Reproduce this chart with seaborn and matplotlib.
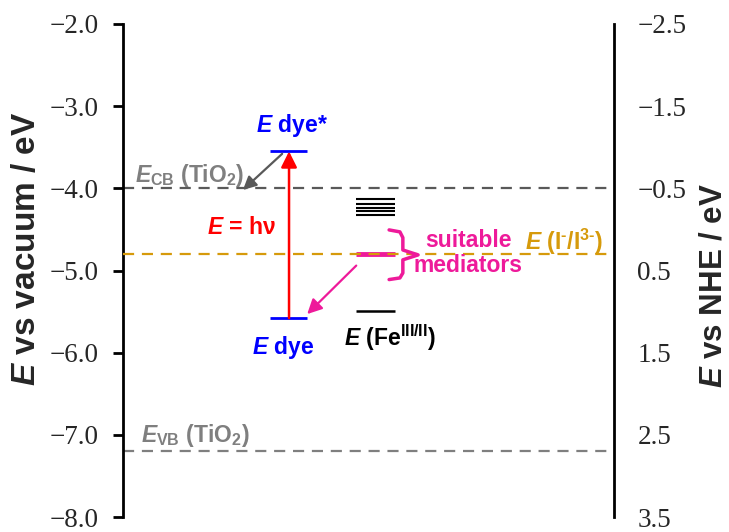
import numpy as np
import pandas as pd
import seaborn as sns
import matplotlib.pyplot as plt

# energy levels, eV vs vacuum
tio2_bands = [-4.0, -7.2]          # CB, VB
dye_levels = [-3.55, -5.58]        # dye*, dye
iodide_level = -4.8
mediator_levels = [-4.13, -4.19, -4.24, -4.28, -4.32]
fe_level = -5.49
left_ticks = [-2.0, -3.0, -4.0, -5.0, -6.0, -7.0, -8.0]
right_ticks = [-2.5, -1.5, -0.5, 0.5, 1.5, 2.5, 3.5]
nhe_offset = 4.5   # E(NHE) = -E(vac) - 4.5

sns.set_theme(style="ticks")
plt.rcParams['font.family'] = ['Liberation Sans', 'DejaVu Sans']
plt.rcParams['mathtext.fontset'] = 'custom'
plt.rcParams['mathtext.rm'] = 'Liberation Sans:bold'
plt.rcParams['mathtext.bf'] = 'Liberation Sans:bold'
plt.rcParams['mathtext.it'] = 'Liberation Sans:italic:bold'

grey_dark = "#595959"
grey = "#7f7f7f"
orange = "#d69a0b"
pink = "#ee1a9a"
blue = "#0000ff"
red = "#ff0000"

fig = plt.figure(figsize=(7.29, 5.32), dpi=100)
ax = fig.add_axes([0.169, 0.028, 0.673, 0.927])
ax.set_xlim(0, 1)
ax.set_ylim(-8.0, -2.0)

# TiO2 bands and iodide level
ax.axhline(tio2_bands[0], color=grey_dark, lw=1.6, dashes=(5, 3.5), zorder=2)
ax.axhline(tio2_bands[1], color=grey, lw=1.6, dashes=(5, 3.5), zorder=2)
ax.hlines(iodide_level, 0.475, 0.554, color=pink, lw=3.5, zorder=2)
ax.axhline(iodide_level, color=orange, lw=1.6, dashes=(5, 3.5), zorder=3)

# dye levels
ax.hlines(dye_levels, 0.299, 0.375, color=blue, lw=2, zorder=4)
# mediators
ax.hlines(mediator_levels, 0.475, 0.554, color="black", lw=1.5, zorder=4)
ax.hlines(fe_level, 0.475, 0.554, color="black", lw=1.8, zorder=4)

# arrows
ax.annotate("", xy=(0.338, dye_levels[0]), xytext=(0.338, dye_levels[1]),
            arrowprops=dict(arrowstyle='-|>', color=red, lw=1.8,
                            mutation_scale=24, shrinkA=0, shrinkB=0), zorder=5)
ax.annotate("", xy=(0.244, tio2_bands[0] - 0.02), xytext=(0.324, dye_levels[0] - 0.03),
            arrowprops=dict(arrowstyle='-|>', color=grey_dark, lw=1.6,
                            mutation_scale=20, shrinkA=0, shrinkB=0), zorder=5)
ax.annotate("", xy=(0.375, dye_levels[1] + 0.05), xytext=(0.475, iodide_level - 0.14),
            arrowprops=dict(arrowstyle='-|>', color=pink, lw=1.6,
                            mutation_scale=22, shrinkA=0, shrinkB=0), zorder=5)

# curly bracket for suitable mediators
bx = [0.542, 0.564, 0.570, 0.570, 0.601, 0.570, 0.570, 0.564, 0.542]
by = [-4.506, -4.53, -4.60, -4.75, -4.81, -4.87, -5.03, -5.09, -5.11]
ax.plot(bx, by, color=pink, lw=2.5, solid_joinstyle='round', zorder=4)

fs = 16.5
hy = "\u2010"
ax.text(0.345, -3.24, "$E$ dye*", color=blue, fontsize=fs, fontweight='bold',
        ha='center', va='center')
ax.text(0.326, -5.94, "$E$ dye", color=blue, fontsize=fs, fontweight='bold',
        ha='center', va='center')
ax.text(0.242, -4.48, "$E$ = hν", color=red, fontsize=fs, fontweight='bold',
        ha='center', va='center')
ax.text(0.544, -5.82, "$E$ (Fe$^{\\mathrm{III/II}}$)", color="black", fontsize=fs,
        fontweight='bold', ha='center', va='center')
ax.text(0.024, -3.85, "$E_{\\mathrm{CB}}$ (TiO$_2$)", color=grey, fontsize=fs,
        fontweight='bold', ha='left', va='center')
ax.text(0.037, -7.01, "$E_{\\mathrm{VB}}$ (TiO$_2$)", color=grey, fontsize=fs,
        fontweight='bold', ha='left', va='center')
ax.text(0.615, -4.63, "suitable", color=pink, fontsize=fs, fontweight='bold',
        ha='left', va='center')
ax.text(0.591, -4.94, "mediators", color=pink, fontsize=fs, fontweight='bold',
        ha='left', va='center')
ax.text(0.819, -4.65, "$E$ (I$^{\\mathrm{" + hy + "}}$/I$^{\\mathrm{3" + hy + "}}$)",
        color=orange, fontsize=fs, fontweight='bold', ha='left', va='center')

# left axis
ax.set_xticks([])
ax.set_yticks(left_ticks)
ax.set_yticklabels([f"{t:.1f}".replace("-", "\u2212") for t in left_ticks],
                   family='Liberation Serif', fontsize=19.5)
ax.tick_params(axis='y', direction='out', length=7, width=2, pad=10.5, color='black')
ax.spines['left'].set_linewidth(2)
ax.spines['left'].set_color('black')
sns.despine(ax=ax, top=True, right=True, bottom=True)

# right axis (NHE)
ax2 = ax.twinx()
ax2.set_ylim(-ax.get_ylim()[0] - nhe_offset, -ax.get_ylim()[1] - nhe_offset)
ax2.set_yticks(right_ticks)
ax2.set_yticklabels([f"{t:.1f}".replace("-", "\u2212") for t in right_ticks],
                    family='Liberation Serif', fontsize=19.5)
ax2.tick_params(axis='y', direction='out', length=7, width=2, pad=10, color='black')
ax2.spines['right'].set_linewidth(2)
ax2.spines['right'].set_color('black')
sns.despine(ax=ax2, top=True, left=True, bottom=True, right=False)

fig.text(27 / 729, 0.532, "$E$ vs vacuum / eV", rotation=90, fontsize=24,
         fontweight='bold', ha='center', va='center')
fig.text(714 / 729, 0.464, "$E$ vs NHE / eV", rotation=90, fontsize=22.5,
         fontweight='bold', ha='center', va='center')

fig.savefig("out.png", dpi=100)
